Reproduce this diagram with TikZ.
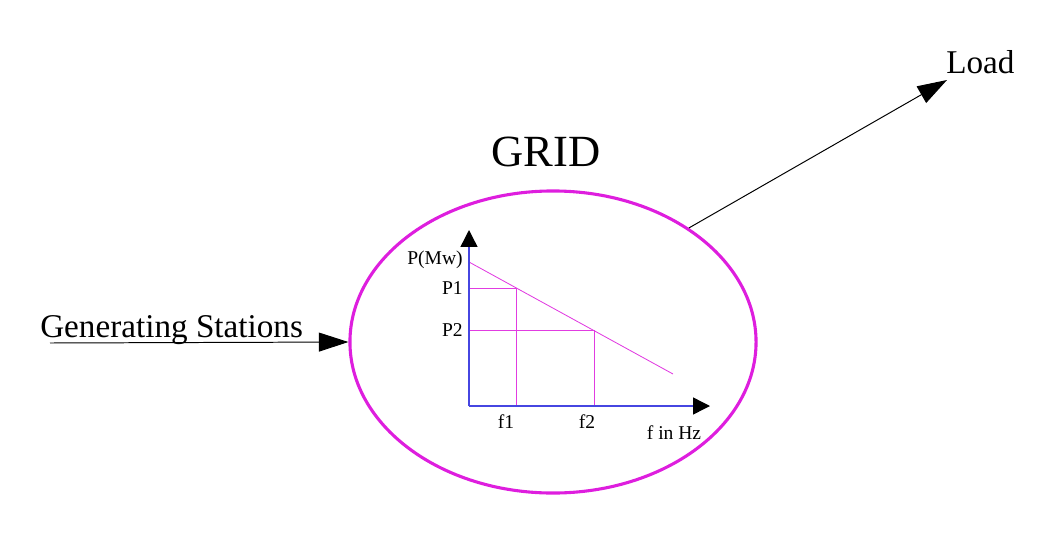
\documentclass[tikz,border=0pt]{standalone}
\usepackage{fontspec}
\setmainfont{Liberation Serif}
\usepackage{xcolor}
\usepackage{tikz}
\usetikzlibrary{arrows.meta}
\usetikzlibrary{shapes.geometric}
\usetikzlibrary{positioning}
\definecolor{gridmag}{RGB}{222,30,222}
\definecolor{axisblue}{RGB}{70,70,225}
\definecolor{guidemag}{RGB}{225,60,225}
\tikzset{
  seta/.style={-{Triangle[length=21pt,width=13.5pt]}, line width=0.7pt},
  eixo/.style={-{Triangle[length=12pt,width=12pt,color=black]}, draw=axisblue, line width=1pt},
  guia/.style={draw=guidemag, line width=0.6pt},
  rotulo/.style={inner sep=0pt, font=\fontsize{13.9}{16}\selectfont},
  texto/.style={inner sep=0pt, font=\fontsize{23.6}{28}\selectfont},
}

\begin{document}
\begin{tikzpicture}[x=0.025cm, y=-0.025cm]
  \useasboundingbox (0,0) rectangle (1039,553);
  \node[draw=gridmag, line width=2.2pt, ellipse, minimum width=10.15cm, minimum height=7.55cm, inner sep=0pt] (grid) at (553,342) {};
  \node[inner sep=0pt, font=\fontsize{31.7}{38}\selectfont] (gridlbl) at (546,152) {GRID};
  % entrada e saida
  \coordinate (genstart) at (50,343);
  \node[texto, anchor=base west] (gen) at (40,337) {Generating Stations};
  \draw[seta] (genstart) -- (grid.west);
  \coordinate (loadtip) at (947,80);
  \node[texto, anchor=base west] (load) at (946,73) {Load};
  \draw[seta] (grid.40) -- (loadtip);
  % curva P x f
  \coordinate (o) at (469,406);
  \coordinate (ytip) at (469,230);
  \coordinate (xtip) at (710,406);
  \coordinate (pmax) at (469,262);
  \coordinate (pend) at (673,374);
  \coordinate (q1) at (516,288);
  \coordinate (q2) at (594,330);
  \draw[guia] (pmax) -- (pend);
  \draw[guia] (q1 -| o) -- (q1) -- (q1 |- o);
  \draw[guia] (q2 -| o) -- (q2) -- (q2 |- o);
  \draw[eixo] (o) -- (ytip);
  \draw[eixo] (o) -- (xtip);
  \node[rotulo, anchor=east] (pmw) at (463,260) {P(Mw)};
  \node[rotulo, anchor=east] (p1) at (463,288) {P1};
  \node[rotulo, anchor=east] (p2) at (463,330) {P2};
  \node[rotulo] (f1) at (506,422) {f1};
  \node[rotulo] (f2) at (587,422) {f2};
  \node[rotulo] (fhz) at (674,433) {f in Hz};
\end{tikzpicture}
\end{document}
